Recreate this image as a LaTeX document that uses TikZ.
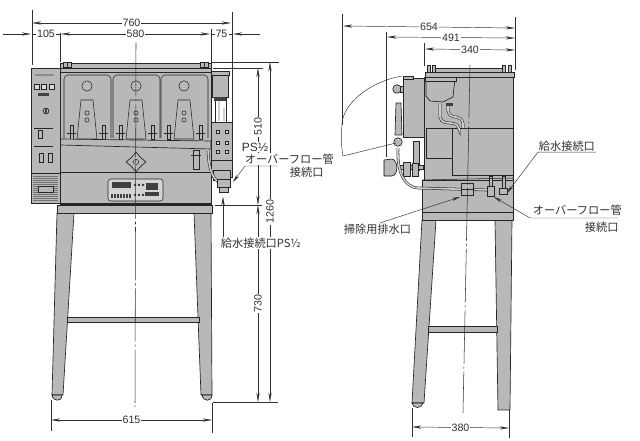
\documentclass[tikz,border=0pt]{standalone}
\usepackage{fontspec}
\setmainfont{Liberation Sans}
\newfontfamily\cjk{Noto Sans CJK JP}
\usetikzlibrary{arrows.meta}
\definecolor{machgray}{HTML}{B8B8B8}
\definecolor{inkgray}{HTML}{303030}

\begin{document}
\begin{tikzpicture}[
    x=0.75pt, y=-0.75pt,
    dimline/.style={line width=0.35pt, draw=inkgray,
      {Stealth[length=7pt,width=2.4pt]}-{Stealth[length=7pt,width=2.4pt]}},
    dimarrow/.style={line width=0.35pt, draw=inkgray, -{Stealth[length=7pt,width=2.4pt]}},
    extline/.style={line width=0.35pt, draw=inkgray},
    dimtext/.style={fill=white, inner sep=0.8pt, text=inkgray, font=\fontsize{8}{8}\selectfont},
    jptext/.style={fill=white, inner sep=0.5pt, text=inkgray, font=\fontsize{8.4}{9}\cjk},
    leader/.style={line width=0.35pt, draw=inkgray, -{Stealth[length=6pt,width=2.4pt]}},
    chain/.style={line width=0.4pt, draw=inkgray, dash pattern=on 40pt off 2pt on 2pt off 2pt},
    part/.style={fill=machgray, draw=black!85, line width=0.5pt},
    fine/.style={draw=black!85, line width=0.4pt},
    knob/.style={fill=machgray, draw=black, line width=0.4pt},
    darkbit/.style={fill=black!75, draw=none},
    pipe/.style={draw=black!85, line width=0.4pt, double=machgray!70, double distance=1.2pt}
  ]
  \useasboundingbox (0,0) rectangle (640,441);

  % front view, stand
  \path[part] (57,213) -- (74,213) -- (63,395) -- (52,395) -- cycle;
  \path[part] (194,213) -- (211,213) -- (212,395) -- (201,395) -- cycle;
  \path[part] (67,317) rectangle (199,322);
  \path[knob] (52,395) .. controls (53,402) and (62,402) .. (62,395) -- cycle;
  \path[knob] (202,395) .. controls (203,402) and (212,402) .. (212,395) -- cycle;
  \path[part] (57,205) rectangle (212,213);

  % front view, body
  \path[part] (60,68) rectangle (211,205);
  \path[part] (60,63) rectangle (211,68);
  \path[fine] (60,72) -- (211,72);
  \foreach \x in {63,67,200,204}
    \path[part] (\x,62) rectangle ++(4,5);
  \foreach \x/\xb in {64/87,113/136,161/184}{
    \path[fine, rounded corners=3pt] (\x,138) -- (\x,75) -- (\x+47,75) -- (\x+47,138);
    \path[fine] (\xb,86) circle[radius=3.9pt];
    \path[fill=machgray, fine] (\xb-6,100) -- (\xb+6,100) -- (\xb+10,139) -- (\xb-10,139) -- cycle;
    \path[fine] (\xb,113) circle[radius=1.6pt] (\xb,120) circle[radius=1.6pt];
    \foreach \s in {-17,15}{
      \path[part] (\xb+\s,125) rectangle ++(3,14);
      \path[fine] (\xb+\s-3,133) -- ++(9,0);
    }
  }
  \path[part] (60,139) -- (211,141) -- (211,149) -- (60,145) -- cycle;
  \path[fine] (60,172) -- (211,172);
  \path[fine, line width=0.8pt] (60,204) -- (211,204);
  \path[knob] (136,152) .. controls (139,156) and (142,159) .. (146,162)
    .. controls (142,165) and (139,168) .. (136,172)
    .. controls (133,168) and (130,165) .. (126,162)
    .. controls (130,159) and (133,156) .. (136,152) -- cycle;
  \path[fine] (136,162) circle[radius=2pt];
  \path[fill=machgray!60, fine, rounded corners=2pt] (108,179) rectangle (163,201);
  \path[darkbit] (112,182) rectangle (131,188);
  \path[darkbit] (146,183) rectangle (158,190);
  \path[darkbit] (145,192) rectangle (159,196);
  \foreach \x in {111,114,...,129}
    \path[darkbit] (\x,194) rectangle ++(1.5,4);
  \foreach \x in {134,138,142}
    \path[darkbit] (\x,184) rectangle ++(2,2) (\x,194) rectangle ++(2,2);

  % front view, control panel
  \path[part] (31,68) rectangle (60,173);
  \path[part] (31,173) rectangle (60,203);
  \path[darkbit, fill=black!45] (35,74) rectangle (54,76);
  \foreach \x in {34,41,49}
    \path[fill=machgray!50, fine] (\x,84) rectangle ++(5,5);
  \path[darkbit] (38,93) rectangle (49,96);
  \path[knob] (46,111) circle[radius=2.2pt];
  \path[darkbit] (45,109) rectangle (47,113);
  \path[fine] (38,130) rectangle (42,138);
  \path[fine] (39,153) rectangle (43,162);
  \path[fine] (48,153) rectangle (52,162);
  \path[fine] (34,128) -- (53,128) (34,146) -- (53,146);
  \path[fill=black!55] (33,176) rectangle (58,201);
  \foreach \y in {177,179,...,201}
    \path[draw=machgray, line width=0.6pt] (33,\y) -- (58,\y);
  \path[fill=machgray, fine] (38,186) rectangle (53,192);

  % front view, right hand unit
  \path[part] (211,122) rectangle (232,177);
  \path[fine] (211,160) -- (232,160);
  \foreach \x in {216,225}
    \foreach \y in {130,141,150}
      \path[fill=machgray!50, fine] (\x,\y) rectangle ++(3,3);
  \path[part] (212,72) rectangle (228,97);
  \path[part] (211,71) rectangle (229,75);
  \path[fill=white, fine] (215,98) rectangle (226,122);
  \path[pipe] (219,100) -- (219,121) (224,108) -- (224,121);
  \path[darkbit] (214,97) rectangle (226,101);
  \path[part] (193,150) rectangle (199,169);
  \path[fine] (191,155) -- (201,155);
  \path[part] (213,170) rectangle (230,180);
  \path[pipe] (208,150) .. controls (209,170) and (212,178) .. (220,183);
  \path[part] (217,179) rectangle (230,187);
  \path[part] (219,187) rectangle (228,192);

  % side view, stand
  \path[part] (422,220) -- (436,220) -- (424,403) -- (412,403) -- cycle;
  \path[part] (495,220) -- (512,220) -- (510,410) -- (498,410) -- cycle;
  \path[part] (428,326) rectangle (497,332);
  \path[knob] (412,403) .. controls (413,409) and (422,409) .. (423,403) -- cycle;
  \path[part] (422,212) rectangle (513,220);

  % side view, body
  \path[part] (422,180) rectangle (513,212);
  \path[part] (424,77) rectangle (513,180);
  \path[part] (425,72) rectangle (514,77);
  \path[part] (435,68) rectangle (502,72);
  \foreach \x in {427,432,502,508}
    \path[part] (\x,65) rectangle ++(3.5,7);
  \path[fine] (426,128) -- (513,128) (426,128) -- (426,158) -- (452,158)
    (452,128) -- (452,175) -- (513,175);
  \path[part] (426,78) -- (455,78) -- (453,97) -- (443,102) -- (430,101) -- (426,96) -- cycle;
  \path[part] (425,77) rectangle (456,81);
  \path[pipe, rounded corners=4pt] (440,104) -- (440,122) -- (459,124) -- (459,128);
  \path[pipe, rounded corners=4pt] (448,104) -- (448,116) -- (463,118) -- (463,128);
  \path[darkbit] (446,103) rectangle (453,106);

  % side view, door and valves
  \path[part] (403,78) rectangle (424,137);
  \path[part] (403,76) rectangle (413,79);
  \path[knob] (397,89) circle[radius=3.2pt];
  \path[part] (400,86) rectangle (403,92);
  \path[part] (396,103) -- (401,103) -- (402,135) -- (395,135) -- cycle;
  \path[knob] (398,142) circle[radius=3.2pt];
  \path[part] (413,141) rectangle (419,170);
  \path[knob] (384,160) -- (392,159) .. controls (398,160) and (399,175) .. (392,176) -- (384,176) -- cycle;
  \path[part] (399,165) rectangle (423,169);
  \path[part] (403,162) rectangle (410,176);
  \path[part] (412,163) rectangle (418,176);
  \path[pipe] (398,148) .. controls (397,170) and (403,187) .. (418,188) -- (488,190);
  \path[part] (461,183) rectangle (473,195);
  \path[fine] (461,189) -- (473,189);
  \path[part] (489,176) rectangle (492,186);
  \path[part] (487,186) rectangle (494,196);
  \path[part] (502,176) rectangle (505,188);
  \path[part] (499,188) rectangle (507,194);
  \path[fine] (422,180) -- (513,178);

  % center lines
  \draw[chain] (136,43) -- (135,407);
  \draw[chain] (470,65) -- (463,413);

  % front dimensions
  \draw[extline] (32,10) -- (32,65);
  \draw[extline] (232,12) -- (232,122);
  \draw[extline] (60,33) -- (60,62);
  \draw[extline] (211,29) -- (211,62);
  \draw[dimline] (32,23) -- node[dimtext] (dimA) {760} (231,23);
  \draw[dimarrow] (3,34) -- (31,34);
  \draw[extline] (32,34) -- node[dimtext] (dimB) {105} (60,34);
  \draw[dimline] (61,34) -- node[dimtext] (dimC) {580} (210,34);
  \draw[extline] (211,34) -- node[dimtext] (dimD) {75} (232,34);
  \draw[dimarrow] (260,34) -- (233,34);
  \draw[extline] (211,62) -- (279,62);
  \draw[extline] (213,68) -- (263,68);
  \draw[extline] (215,205) -- (262,205);
  \draw[extline] (213,402) -- (278,402);
  \draw[dimline] (258,68) -- node[dimtext, rotate=90, pos=0.43] (dimE) {510} (258,205);
  \draw[dimline] (258,205) -- node[dimtext, rotate=90] (dimF) {730} (258,402);
  \draw[dimline] (270,62) -- node[dimtext, rotate=90, pos=0.44] (dimG) {1260} (270,402);
  \draw[extline] (51,400) -- (51,431);
  \draw[extline] (212,403) -- (212,433);
  \draw[dimline] (51,420) -- node[dimtext] (dimH) {615} (212,420);

  % side dimensions
  \draw[extline] (342,14) -- (342,125);
  \draw[extline] (386,32) -- (386,157);
  \draw[extline] (424,43) -- (424,66);
  \draw[extline] (515,17) -- (515,70);
  \draw[dimline] (343,26) -- node[dimtext] (dimJ) {654} (515,28);
  \draw[dimline] (387,37) -- node[dimtext] (dimK) {491} (515,38);
  \draw[dimline] (425,49) -- node[dimtext] (dimL) {340} (515,50);
  \draw[extline] (412,408) -- (412,437);
  \draw[extline] (509,410) -- (509,438);
  \draw[dimline] (412,427) -- node[dimtext] (dimM) {380} (509,428);
  \draw[extline] (402,76) .. controls (368,82) and (342,105) .. (342,125)
    .. controls (341,135) and (341,145) .. (343,156) -- (396,143);

  % labels
  \node[dimtext, font=\fontsize{9}{9}\selectfont] (ps) at (255,147) {PS½};
  \node[jptext, anchor=west] (ovfa) at (244,159) {オーバーフロー管};
  \node[jptext, anchor=west] (ovfb) at (289,172) {接続口};
  \coordinate (ovftip) at (233,182);
  \coordinate (ovfend) at (277,166);
  \coordinate (ovfbend) at (245,166);
  \draw[leader] (ovfend) -- (ovfbend) -- (ovftip);

  \node[jptext, anchor=west] (feed) at (220,243) {給水接続口PS½};
  \coordinate (feedtip) at (223,197);
  \draw[leader] (feed.north west -| feedtip) -- (feedtip);

  \node[jptext, anchor=west] (feedb) at (538,146) {給水接続口};
  \coordinate (feedbtip) at (507,193);
  \draw[leader] (feedb.south east) -- (feedb.south west) -- (feedbtip);

  \node[jptext, anchor=west] (ovfc) at (532,210) {オーバーフロー管};
  \node[jptext, anchor=west] (ovfd) at (584,227) {接続口};
  \coordinate (ovfctip) at (494,197);
  \coordinate (ovfcend) at (618,218);
  \coordinate (ovfcbend) at (530,218);
  \draw[leader] (ovfcend) -- (ovfcbend) -- (ovfctip);

  \node[jptext, anchor=west] (drain) at (343,229) {掃除用排水口};
  \coordinate (draintip) at (460,197);
  \draw[leader] (drain.north east) ++(-32,0) -- (draintip);
\end{tikzpicture}
\end{document}
